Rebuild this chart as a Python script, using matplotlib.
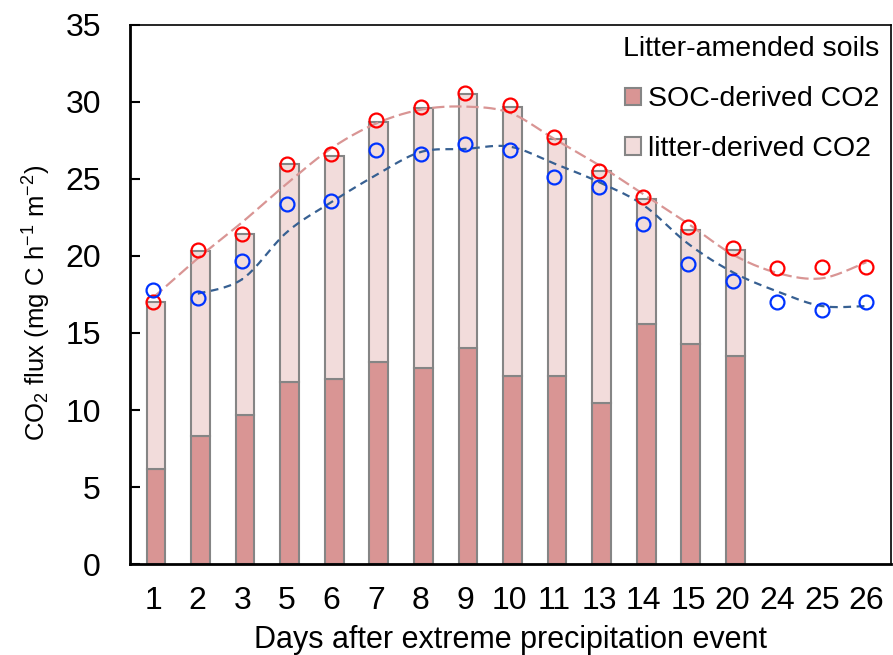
import matplotlib.pyplot as plt
import numpy as np
from matplotlib.patches import Patch

plt.rcParams['font.family'] = ['Liberation Sans', 'DejaVu Sans']
plt.rcParams['mathtext.fontset'] = 'custom'
plt.rcParams['mathtext.rm'] = 'Liberation Sans'
plt.rcParams['mathtext.it'] = 'Liberation Sans:italic'

days = ['1', '2', '3', '5', '6', '7', '8', '9', '10', '11', '13', '14', '15', '20', '24', '25', '26']

# stacked bars (only first 14 days)
soc_co2 = [6.2, 8.3, 9.65, 11.8, 12.0, 13.1, 12.7, 14.0, 12.2, 12.2, 10.45, 15.6, 14.3, 13.5]
total_co2 = [17.0, 20.3, 21.4, 26.0, 26.5, 28.7, 29.6, 30.5, 29.7, 27.6, 25.5, 23.7, 21.7, 20.4]
litter_co2 = [t - s for t, s in zip(total_co2, soc_co2)]

# circles
red_pts = [17.0, 20.4, 21.4, 26.0, 26.6, 28.8, 29.7, 30.6, 29.8, 27.7, 25.5, 23.8, 21.9, 20.5, 19.2, 19.3, 19.3]
blue_pts = [17.8, 17.3, 19.7, 23.4, 23.6, 26.9, 26.6, 27.3, 26.9, 25.1, 24.5, 22.1, 19.5, 18.4, 17.0, 16.5, 17.0]

# red dashed trend at each day
red_trend = [17.3, 19.85, 22.2, 24.7, 27.0, 28.6, 29.5, 29.7, 29.3, 27.6, 25.9, 24.0, 22.1, 20.1, 18.9, 18.55, 19.6]


def catmull(x, y, n=20):
    # smooth line through points, like a spreadsheet "smoothed line"
    x = np.asarray(x, float)
    y = np.asarray(y, float)
    px = np.r_[x[0], x, x[-1]]
    py = np.r_[y[0], y, y[-1]]
    xs, ys = [], []
    t = np.linspace(0, 1, n)
    for i in range(1, len(px) - 2):
        for p, out in ((px, xs), (py, ys)):
            p0, p1, p2, p3 = p[i - 1], p[i], p[i + 1], p[i + 2]
            out.extend(0.5 * ((2 * p1) + (-p0 + p2) * t
                              + (2 * p0 - 5 * p1 + 4 * p2 - p3) * t ** 2
                              + (-p0 + 3 * p1 - 3 * p2 + p3) * t ** 3))
    return np.array(xs), np.array(ys)


x = np.arange(len(days))
xb = np.arange(len(soc_co2)) + 0.06

fig = plt.figure(figsize=(8.93, 6.55), dpi=100)
ax = fig.add_axes([0.1456, 0.1389, 0.852, 0.823])

ax.bar(xb, soc_co2, width=0.42, color='#d99594', edgecolor='#858585', linewidth=1.5, zorder=2)
ax.bar(xb, litter_co2, bottom=soc_co2, width=0.42, color='#f2dcdb', edgecolor='#858585', linewidth=1.5, zorder=2)

rx, ry = catmull(x, red_trend)
ax.plot(rx, ry, color='#d99594', lw=1.6, dashes=(5.5, 2.2), zorder=3)

# blue trend: 2-period moving average, smoothed
ma = [(blue_pts[i - 1] + blue_pts[i]) / 2 for i in range(1, len(blue_pts))]
sx, sy = catmull(x[1:], ma)
ax.plot(sx, sy, color='#376092', lw=1.6, dashes=(3.5, 2.5), zorder=3)

ax.plot(x, red_pts, 'o', ms=10, mfc='none', mec='#ff0000', mew=1.6, zorder=4)
ax.plot(x, blue_pts, 'o', ms=10, mfc='none', mec='#0033ff', mew=1.6, zorder=4)

ax.set_xlim(-0.52, 16.55)
ax.set_ylim(0, 35)
ax.set_yticks(range(0, 36, 5))
ax.set_xticks(x)
ax.set_xticklabels(days)
ax.tick_params(axis='y', labelsize=23, direction='in', length=7, width=1.5, pad=21)
ax.tick_params(axis='x', labelsize=23, length=0, pad=16)
for s in ['left', 'bottom']:
    ax.spines[s].set_linewidth(2)
for s in ['top', 'right']:
    ax.spines[s].set_linewidth(1.2)

ax.set_xlabel('Days after extreme precipitation event', fontsize=22, labelpad=6)
ax.set_ylabel('CO$_2$ flux (mg C h$^{-1}$ m$^{-2}$)', fontsize=18.5)
ax.yaxis.set_label_coords(-0.101, 0.484)

handles = [Patch(facecolor='#d99594', edgecolor='#858585', lw=1.5),
           Patch(facecolor='#f2dcdb', edgecolor='#858585', lw=1.5)]
leg = ax.legend(handles, ['SOC-derived CO2', 'litter-derived CO2'], title='Litter-amended soils',
                loc='upper right', frameon=False, fontsize=20.5, title_fontsize=20.5,
                handlelength=0.56, handleheight=0.56, handletextpad=0.25, labelspacing=0.84,
                borderaxespad=0, borderpad=0.4, alignment='right')

fig.savefig('out.png', dpi=100)
